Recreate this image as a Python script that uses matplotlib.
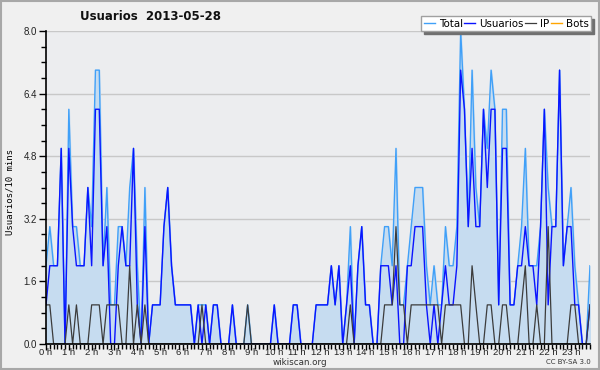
import numpy as np
import matplotlib
matplotlib.use("Agg")
import matplotlib.pyplot as plt
from matplotlib.patches import Rectangle
from matplotlib.ticker import MultipleLocator, FixedLocator

# -----------------------
# Data (one value every 10 minutes, 144 per day)
# -----------------------
usuarios = [
    1, 2, 2, 2, 5, 0, 5, 3, 2, 2, 2, 4,
    2, 6, 6, 2, 3, 0, 0, 2, 3, 2, 2, 5,
    1, 0, 3, 0, 1, 1, 1, 3, 4, 2, 1, 1,
    1, 1, 1, 0, 1, 0, 1, 0, 1, 1, 0, 0,
    0, 1, 0, 0, 0, 0, 0, 0, 0, 0, 0, 0,
    1, 0, 0, 0, 0, 1, 1, 0, 0, 0, 0, 1,
    1, 1, 1, 2, 1, 2, 0, 1, 2, 0, 2, 3,
    1, 1, 0, 0, 2, 2, 2, 1, 2, 0, 0, 2,
    2, 3, 3, 3, 1, 0, 1, 0, 1, 2, 1, 1,
    2, 7, 6, 3, 5, 3, 3, 6, 4, 6, 6, 1,
    5, 5, 1, 1, 2, 2, 3, 2, 2, 1, 3, 6,
    1, 3, 3, 7, 2, 3, 3, 1, 1, 0, 0, 1,
]
ip = [
    1, 1, 0, 0, 0, 0, 1, 0, 1, 0, 0, 0,
    1, 1, 1, 0, 1, 1, 1, 1, 0, 0, 2, 0,
    1, 0, 1, 0, 0, 0, 0, 0, 0, 0, 0, 0,
    0, 0, 0, 0, 0, 1, 0, 0, 0, 0, 0, 0,
    0, 0, 0, 0, 0, 1, 0, 0, 0, 0, 0, 0,
    0, 0, 0, 0, 0, 0, 0, 0, 0, 0, 0, 0,
    0, 0, 0, 0, 0, 0, 0, 0, 1, 0, 0, 0,
    0, 0, 0, 0, 0, 1, 1, 1, 3, 1, 1, 0,
    1, 1, 1, 1, 1, 1, 1, 1, 0, 1, 1, 1,
    1, 1, 0, 0, 2, 1, 0, 0, 1, 1, 0, 0,
    1, 1, 0, 0, 0, 1, 2, 0, 0, 1, 0, 0,
    3, 0, 0, 0, 0, 0, 1, 1, 0, 0, 0, 1,
]
total = [
    2, 3, 2, 2, 5, 0, 6, 3, 3, 2, 2, 4,
    3, 7, 7, 2, 4, 1, 1, 3, 3, 2, 4, 5,
    2, 0, 4, 0, 1, 1, 1, 3, 4, 2, 1, 1,
    1, 1, 1, 0, 1, 1, 1, 0, 1, 1, 0, 0,
    0, 1, 0, 0, 0, 1, 0, 0, 0, 0, 0, 0,
    1, 0, 0, 0, 0, 1, 1, 0, 0, 0, 0, 1,
    1, 1, 1, 2, 1, 2, 0, 1, 3, 0, 2, 3,
    1, 1, 0, 0, 2, 3, 3, 2, 5, 1, 1, 2,
    3, 4, 4, 4, 2, 1, 2, 1, 1, 3, 2, 2,
    3, 8, 6, 3, 7, 4, 3, 6, 5, 7, 6, 1,
    6, 6, 1, 1, 2, 3, 5, 2, 2, 2, 3, 6,
    4, 3, 3, 7, 2, 3, 4, 2, 1, 0, 0, 2,
]
bots = [0] * 144

hours = list(range(24))
hour_labels = [f"{h} h" for h in hours]
y_ticks = [0.0, 1.6, 3.2, 4.8, 6.4, 8.0]

title = "Usuarios  2013-05-28"

# -----------------------
# Figure setup
# -----------------------
plt.rcParams['font.family'] = 'DejaVu Sans'

fig = plt.figure(figsize=(6.0, 3.7), dpi=100, facecolor='#f0f0f0')
ax = fig.add_axes([46 / 600, 1 - 344 / 370, 544 / 600, 313 / 370])
ax.set_facecolor('#ecedef')

# figure frame
fig.patches.append(Rectangle((0.001, 0.002), 0.997, 0.995, transform=fig.transFigure,
                             fill=False, edgecolor='#a8a8a8', linewidth=1.5))

x = np.arange(len(total)) / 6.0

# -----------------------
# Series
# -----------------------
ax.fill_between(x, total, color='#c6dcf0', zorder=1)
ax.plot(x, bots, color='#ffa500', linewidth=1.0, label='Bots', zorder=2)
ax.plot(x, total, color='#40a0f8', linewidth=1.0, label='Total', zorder=3)
ax.plot(x, usuarios, color='#0a14ff', linewidth=1.0, label='Usuarios', zorder=4)
ax.plot(x, ip, color='#3c3c3c', linewidth=0.9, label='IP', zorder=5)

# -----------------------
# Axes, ticks, grid
# -----------------------
ax.set_xlim(0, 143 / 6.0)
ax.set_ylim(0, 8.0)

ax.yaxis.set_major_locator(FixedLocator(y_ticks))
ax.set_yticklabels([f"{v:.1f}" for v in y_ticks])
ax.yaxis.set_minor_locator(MultipleLocator(0.4))
ax.xaxis.set_major_locator(FixedLocator(hours))
ax.set_xticklabels(hour_labels)
ax.xaxis.set_minor_locator(MultipleLocator(1 / 6.0))

ax.tick_params(axis='both', which='major', direction='out', length=5, width=1,
               labelsize=7, colors='black', pad=1.5, labelcolor='#222222')
ax.tick_params(axis='both', which='minor', direction='out', length=3.5, width=1)
ax.tick_params(axis='x', which='major', length=4, pad=-1.0, labelsize=6.8)
ax.tick_params(axis='x', which='minor', length=3.5)
for lbl in ax.get_xticklabels() + ax.get_yticklabels():
    lbl.set_family('Liberation Sans')

ax.grid(axis='y', which='major', color='#c8c8c8', linewidth=1.0, zorder=0)
ax.set_axisbelow(True)

for side in ['top', 'right']:
    ax.spines[side].set_visible(False)
ax.spines['left'].set_linewidth(1.2)
ax.spines['bottom'].set_linewidth(1.2)
ax.spines['left'].set_zorder(6)
ax.spines['bottom'].set_zorder(6)

# -----------------------
# Labels and text
# -----------------------
fig.text(151 / 600, 1 - 17 / 370, title, ha='center', va='center',
         fontsize=8.5, fontweight='bold', color='#111111')
fig.text(10 / 600, 1 - 192 / 370, "Usuarios/10 mins", rotation=90,
         ha='center', va='center', fontsize=6.5, family='DejaVu Sans Mono')
fig.text(300 / 600, 1 - 362.5 / 370, "wikiscan.org", ha='center', va='center',
         fontsize=6.3, color='#333333')
fig.text(591 / 600, 1 - 362.5 / 370, "CC BY-SA 3.0", ha='right', va='center',
         fontsize=5, color='#333333')

# -----------------------
# Legend
# -----------------------
handles, labels = ax.get_legend_handles_labels()
order = [labels.index(n) for n in ['Total', 'Usuarios', 'IP', 'Bots']]
leg = ax.legend([handles[k] for k in order], [labels[k] for k in order],
                ncol=4, loc='upper right', bbox_to_anchor=(591 / 600, 1 - 16 / 370),
                bbox_transform=fig.transFigure, fontsize=7.4, frameon=True,
                fancybox=False, shadow={'color': '#707070', 'alpha': 1.0},
                handlelength=1.1, handletextpad=0.35, columnspacing=0.15,
                borderpad=0.25, borderaxespad=0)
leg.get_frame().set_edgecolor('#a0a0a0')
leg.get_frame().set_facecolor('white')
leg.get_frame().set_alpha(1.0)
leg.get_frame().set_linewidth(1.0)

fig.savefig("out.png", dpi=100, facecolor=fig.get_facecolor())
